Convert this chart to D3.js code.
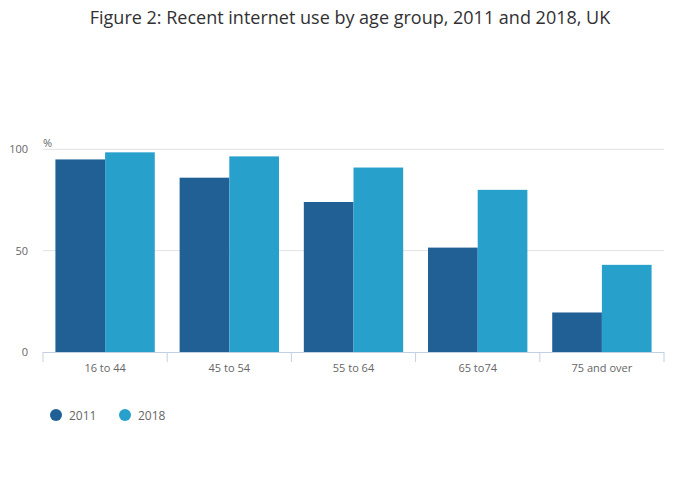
<!DOCTYPE html>
<html><head><meta charset="utf-8">
<script src="https://cdn.jsdelivr.net/npm/d3@7"></script>
<style>
body{margin:0;background:#fff;font-family:"Open Sans",sans-serif;}
</style></head>
<body><svg id="c" width="700" height="502"></svg>
<script>
const categories = ["16 to 44","45 to 54","55 to 64","65 to74","75 and over"];
const seriesNames = ["2011","2018"];
const values2011 = [95, 86, 74, 51.5, 19.5];
const values2018 = [98.5, 96.5, 91, 80, 43];
const yTicks = [0, 50, 100];
const colors = ["#206095", "#27a0cc"];

const svg = d3.select("#c");
const m = {l:43, r:664, t:149.3, b:352};
const x0 = d3.scaleBand().domain(categories).range([m.l, m.r]).paddingInner(0.2).paddingOuter(0.1);
const x1 = d3.scaleBand().domain(seriesNames).range([0, x0.bandwidth()]);
const y = d3.scaleLinear().domain([0,100]).range([m.b, m.t]);
const color = d3.scaleOrdinal().domain(seriesNames).range(colors);

svg.append("text").attr("x",350).attr("y",24).attr("text-anchor","middle")
  .attr("font-size",18).attr("fill","#323132").text("Figure 2: Recent internet use by age group, 2011 and 2018, UK");

// gridlines
svg.append("g").selectAll("line").data(yTicks.filter(d=>d>0)).join("line")
  .attr("x1",m.l).attr("x2",m.r).attr("y1",d=>y(d)).attr("y2",d=>y(d))
  .attr("stroke","#e2e2e2").attr("stroke-width",1);

// y labels
svg.append("g").selectAll("text").data(yTicks).join("text")
  .attr("x",28).attr("y",d=>y(d)).attr("dy","0.35em").attr("text-anchor","end")
  .attr("font-size",11).attr("fill","#666").text(d=>d);
svg.append("text").attr("x",43).attr("y",147).attr("font-size",11).attr("fill","#666").text("%");

// bars
const data = categories.map((c,i)=>({cat:c, vals:[{s:"2011",v:values2011[i]},{s:"2018",v:values2018[i]}]}));
svg.append("g").selectAll("g").data(data).join("g")
  .attr("transform",d=>`translate(${x0(d.cat)},0)`)
  .selectAll("rect").data(d=>d.vals).join("rect")
  .attr("x",d=>x1(d.s)).attr("width",x1.bandwidth())
  .attr("y",d=>y(d.v)).attr("height",d=>y(0)-y(d.v)).attr("fill",d=>color(d.s));

// x axis
const step = x0.step();
const bounds = d3.range(categories.length+1).map(i=>m.l + i*step);
const ax = svg.append("g");
ax.append("line").attr("x1",m.l).attr("x2",m.r).attr("y1",m.b+0.5).attr("y2",m.b+0.5).attr("stroke","#c3cfe2");
ax.selectAll("line.t").data(bounds).join("line").attr("class","t")
  .attr("x1",d=>d).attr("x2",d=>d).attr("y1",m.b).attr("y2",m.b+10).attr("stroke","#c3cfe2");
ax.selectAll("text").data(categories).join("text")
  .attr("x",d=>x0(d)+x0.bandwidth()/2).attr("y",372).attr("text-anchor","middle")
  .attr("font-size",11).attr("fill","#666").text(d=>d);

// legend
const lg = svg.append("g");
const lx = [56, 125];
seriesNames.forEach((s,i)=>{
  lg.append("circle").attr("cx",lx[i]).attr("cy",415).attr("r",6).attr("fill",colors[i]);
  lg.append("text").attr("x",lx[i]+13).attr("y",420).attr("font-size",12).attr("fill","#666").text(s);
});
</script></body></html>
